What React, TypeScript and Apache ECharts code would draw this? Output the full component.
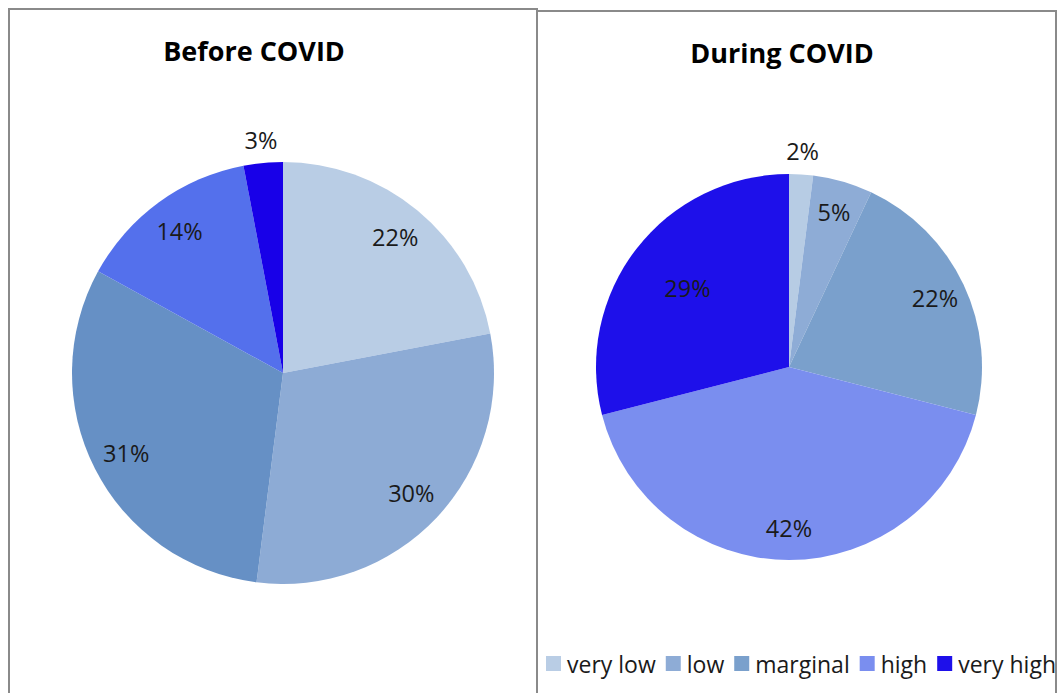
import React, { useEffect, useRef } from "react";
import * as echarts from "echarts";

const categories = ["very low", "low", "marginal", "high", "very high"];
const beforeValues = [22, 30, 31, 14, 3];
const duringValues = [2, 5, 22, 42, 29];
const beforeColors = ["#B9CDE5", "#8DABD5", "#6690C5", "#5470EC", "#1800E8"];
const duringColors = ["#B7CCE4", "#8EACD6", "#7AA0CC", "#7A8EEF", "#1E10EA"];
const legendColors = ["#B9CDE5", "#8EACD6", "#7AA0CC", "#7A8EEF", "#1E10EA"];
const titles = ["Before COVID", "During COVID"];

// which label sits where (per pie)
const beforeLabelGroup = ["mid", "mid", "mid", "mid", "outer"];
const duringLabelGroup = ["outer", "mid", "mid", "mid", "inner"];

const FONT = "'Open Sans', 'Noto Sans', sans-serif";

function mainPie(values: number[], colors: string[], center: number[], r: number) {
  return {
    type: "pie",
    center,
    radius: [0, r],
    startAngle: 90,
    clockwise: true,
    silent: true,
    label: { show: false },
    labelLine: { show: false },
    emphasis: { disabled: true },
    data: values.map((v, i) => ({
      name: categories[i],
      value: v,
      itemStyle: { color: colors[i] },
    })),
  };
}

function labelPie(
  values: number[],
  groups: string[],
  group: string,
  center: number[],
  radius: number[]
) {
  return {
    type: "pie",
    center,
    radius,
    startAngle: 90,
    clockwise: true,
    silent: true,
    emphasis: { disabled: true },
    itemStyle: { color: "rgba(0,0,0,0)" },
    labelLine: { show: false },
    label: {
      show: true,
      position: "inside",
      formatter: "{c}%",
      color: "#1a1a1a",
      fontSize: 23.5,
      fontFamily: FONT,
    },
    data: values.map((v, i) => ({
      name: categories[i],
      value: v,
      label: { show: groups[i] === group },
    })),
  };
}

export default function App() {
  const ref = useRef<HTMLDivElement>(null);
  useEffect(() => {
    if (!ref.current) return;
    const chart = echarts.init(ref.current, null, { renderer: "svg" });
    const lc = [283, 373];
    const lr = 211;
    const rc = [789, 367];
    const rr = 193;
    chart.setOption({
      animation: false,
      backgroundColor: "#ffffff",
      title: [
        {
          text: titles[0],
          left: 249,
          top: 32,
          textAlign: "center",
          textStyle: { fontFamily: FONT, fontWeight: "bold", fontSize: 27, color: "#000" },
        },
        {
          text: titles[1],
          left: 777,
          top: 34,
          textAlign: "center",
          textStyle: { fontFamily: FONT, fontWeight: "bold", fontSize: 27, color: "#000" },
        },
      ],
      legend: {
        show: true,
        data: categories.map((c, i) => ({ name: c, itemStyle: { color: legendColors[i] } })),
        left: 546,
        top: 652,
        padding: 0,
        icon: "rect",
        itemWidth: 15,
        itemHeight: 15,
        itemGap: 10,
        selectedMode: false,
        textStyle: { fontFamily: FONT, fontSize: 23, color: "#1a1a1a", padding: [0, 0, 0, 1] },
      },
      graphic: [
        {
          type: "rect",
          shape: { x: 9, y: 9, width: 528, height: 720 },
          style: { fill: "none", stroke: "#8a8a8a", lineWidth: 2 },
          silent: true,
        },
        {
          type: "rect",
          shape: { x: 537, y: 11, width: 519, height: 720 },
          style: { fill: "none", stroke: "#8a8a8a", lineWidth: 2 },
          silent: true,
        },
      ],
      series: [
        mainPie(beforeValues, beforeColors, lc, lr),
        mainPie(duringValues, duringColors, rc, rr),
        labelPie(beforeValues, beforeLabelGroup, "mid", lc, [lr * 0.64, lr]),
        labelPie(beforeValues, beforeLabelGroup, "outer", lc, [lr, lr + 40]),
        labelPie(duringValues, duringLabelGroup, "mid", rc, [rr * 0.64, rr]),
        labelPie(duringValues, duringLabelGroup, "inner", rc, [rr * 0.3, rr]),
        labelPie(duringValues, duringLabelGroup, "outer", rc, [rr, rr + 40]),
      ],
    });
    return () => chart.dispose();
  }, []);
  return (
    <div
      ref={ref}
      style={{ position: "fixed", left: 0, top: 0, width: 1057, height: 693 }}
    />
  );
}
